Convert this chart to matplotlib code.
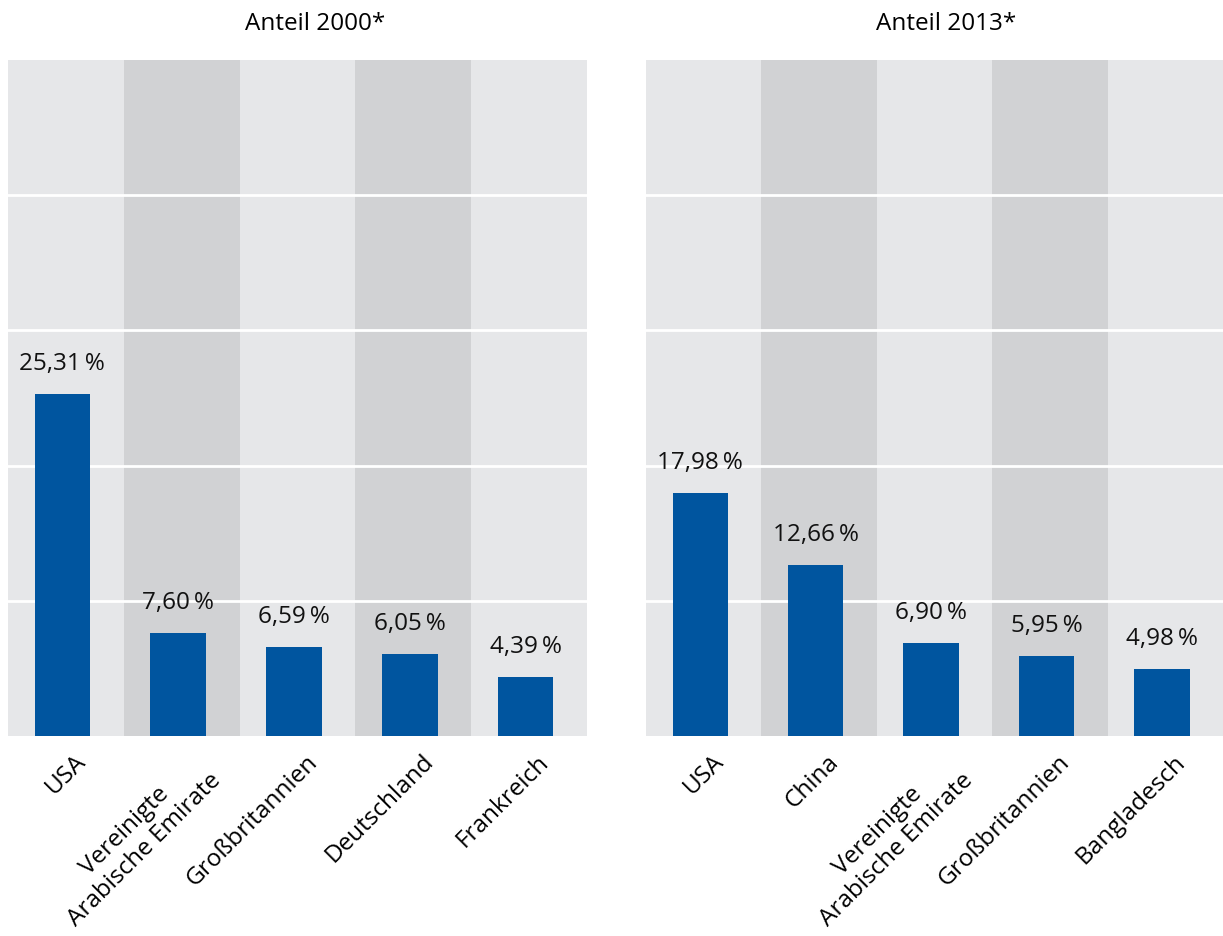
import matplotlib
matplotlib.use("Agg")
import matplotlib.pyplot as plt
from matplotlib.transforms import ScaledTranslation

plt.rcParams['font.family'] = ['Open Sans', 'DejaVu Sans']

titles = ["Anteil 2000*", "Anteil 2013*"]
cats_2000 = ["USA", "Vereinigte\nArabische Emirate", "Großbritannien", "Deutschland", "Frankreich"]
vals_2000 = [25.31, 7.60, 6.59, 6.05, 4.39]
cats_2013 = ["USA", "China", "Vereinigte\nArabische Emirate", "Großbritannien", "Bangladesch"]
vals_2013 = [17.98, 12.66, 6.90, 5.95, 4.98]

BAR = "#00559f"
LIGHT = "#e6e7e9"
DARK = "#d1d2d4"
FS = 17.5

W, H = 1223, 936
fig = plt.figure(figsize=(W / 100, H / 100), dpi=100)

def fmt(v):
    return f"{v:.2f}".replace(".", ",") + "\u2009%"

panels = [
    (8, 587, cats_2000, vals_2000, titles[0], 315),
    (646, 1223, cats_2013, vals_2013, titles[1], 946),
]
for left, right, cats, vals, title, tx in panels:
    ax = fig.add_axes([left / W, (H - 736) / H, (right - left) / W, 676 / H])
    ax.set_facecolor(LIGHT)
    n = len(cats)
    for i in range(n):
        if i % 2 == 1:
            ax.axvspan(i - 0.5, i + 0.5, color=DARK, lw=0, zorder=0)
    for g in [10, 20, 30, 40]:
        ax.axhline(g, color="white", lw=2, zorder=1)
    x = list(range(n))
    ax.bar([xi - 0.03 for xi in x], vals, width=0.48, color=BAR, zorder=2)
    for xi, v in zip(x, vals):
        ax.annotate(fmt(v), (xi - 0.03, v), xytext=(0, 13), textcoords="offset points",
                    ha="center", va="bottom", fontsize=FS, color="#111111")
    ax.set_xlim(-0.5, n - 0.5)
    ax.set_ylim(0, 50)
    ax.set_yticks([])
    ax.set_xticks(x)
    ax.set_xticklabels(cats, rotation=45, ha="right", rotation_mode="anchor",
                       fontsize=FS, multialignment="center", linespacing=1.15)
    ax.tick_params(axis="x", length=0, pad=10)
    off = ScaledTranslation(8 / 100, 0, fig.dpi_scale_trans)
    for lab in ax.get_xticklabels():
        lab.set_transform(lab.get_transform() + off)
    for s in ax.spines.values():
        s.set_visible(False)
    fig.text(tx / W, 1 - 24 / H, title, ha="center", va="center", fontsize=FS)

fig.savefig("out.png", dpi=100, facecolor="white")
